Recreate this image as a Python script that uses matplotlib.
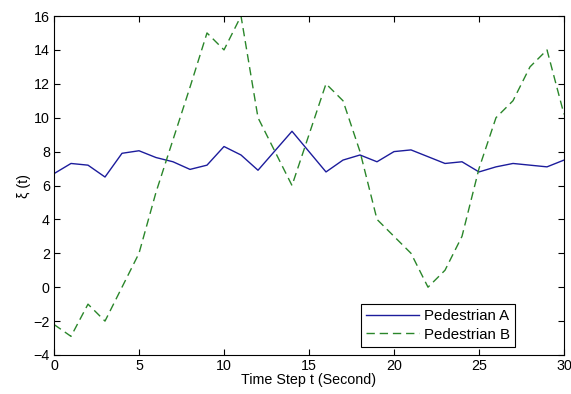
import matplotlib
matplotlib.use("Agg")
import matplotlib.pyplot as plt

t = list(range(31))
ped_a = [6.7, 7.3, 7.2, 6.5, 7.9, 8.05, 7.65, 7.4, 6.95, 7.2, 8.3, 7.8, 6.9, 8.05, 9.2,
         8.0, 6.8, 7.5, 7.8, 7.4, 8.0, 8.1, 7.7, 7.3, 7.4, 6.8, 7.1, 7.3, 7.2, 7.1, 7.5]
ped_b = [-2.2, -2.9, -1.0, -2.0, 0.0, 2.0, 5.6, 8.7, 11.8, 15.0, 14.0, 16.0, 10.0, 8.0, 6.0,
         9.0, 12.0, 11.0, 8.0, 4.0, 3.0, 2.0, 0.0, 1.0, 3.0, 7.0, 10.0, 11.0, 13.0, 14.0, 10.2]
labels = ["Pedestrian A", "Pedestrian B"]
xticks = [0, 5, 10, 15, 20, 25, 30]
yticks = [-4, -2, 0, 2, 4, 6, 8, 10, 12, 14, 16]

plt.rcParams['font.family'] = ['Liberation Sans', 'DejaVu Sans']
fig = plt.figure(figsize=(5.71, 3.94), dpi=100)
ax = fig.add_axes([54/571, 1-355/394, (564-54)/571, (355-16)/394])
ax.plot(t, ped_a, '-', color='#1c1c9c', lw=1.0, label=labels[0])
ax.plot(t, ped_b, '--', color='#2a862a', lw=1.0, dashes=(6, 3.5), label=labels[1])
ax.set_xlim(0, 30)
ax.set_ylim(-4, 16)
ax.set_xticks(xticks)
ax.set_yticks(yticks)
ax.tick_params(direction='in', length=4, width=0.8, top=True, right=True, labelsize=10.3, pad=3)
for s in ax.spines.values():
    s.set_linewidth(0.8)
ax.set_xlabel("Time Step t (Second)", fontsize=10.3, labelpad=0)
ax.set_ylabel("ξ (t)", fontsize=10.3, labelpad=2)
leg = ax.legend(loc='lower right', bbox_to_anchor=(0.904, 0.024), fontsize=10.8,
                fancybox=False, edgecolor='black', framealpha=1, handlelength=3.5,
                borderpad=0.35, labelspacing=0.3, handletextpad=0.35, borderaxespad=0)
leg.get_frame().set_linewidth(0.8)
fig.savefig("out.png", dpi=100)
